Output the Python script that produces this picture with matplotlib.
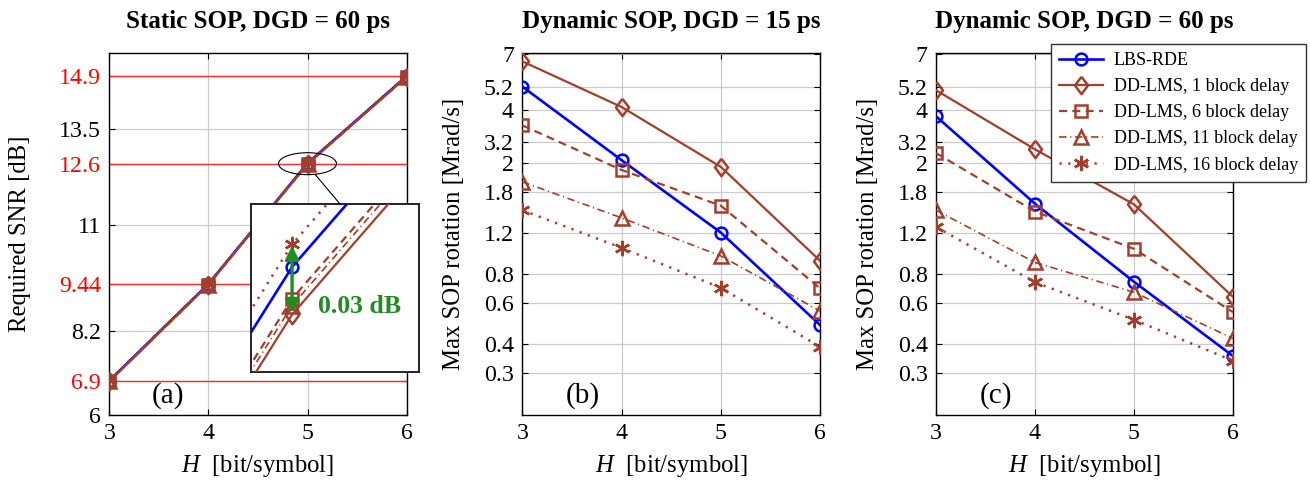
import numpy as np
import matplotlib
matplotlib.use('Agg')
import matplotlib.pyplot as plt
from matplotlib.patches import Ellipse, ConnectionPatch
from matplotlib.ticker import FixedLocator, FixedFormatter, NullLocator

plt.rcParams['font.family'] = ['Liberation Serif', 'DejaVu Serif']
plt.rcParams['mathtext.fontset'] = 'custom'
plt.rcParams['mathtext.rm'] = 'Liberation Serif'
plt.rcParams['mathtext.it'] = 'Liberation Serif:italic'
plt.rcParams['mathtext.bf'] = 'Liberation Serif:bold'

# ---------------- data ----------------
H = [3, 4, 5, 6]
labels = ['LBS-RDE', 'DD-LMS, 1 block delay', 'DD-LMS, 6 block delay',
          'DD-LMS, 11 block delay', 'DD-LMS, 16 block delay']

# (a) required SNR [dB], static SOP, DGD = 60 ps
snr_lbs = [6.900, 9.440, 12.610, 14.900]
snr_dd1 = [6.880, 9.420, 12.589, 14.880]
snr_dd6 = [6.886, 9.426, 12.596, 14.886]
snr_dd11 = [6.883, 9.423, 12.593, 14.883]
snr_dd16 = [6.910, 9.450, 12.620, 14.910]
snr_ticks = [6, 6.9, 8.2, 9.44, 11, 12.6, 13.5, 14.9]
snr_ticklabels = ['6', '6.9', '8.2', '9.44', '11', '12.6', '13.5', '14.9']
snr_red = [6.9, 9.44, 12.6, 14.9]

# (b) max SOP rotation [Mrad/s], dynamic SOP, DGD = 15 ps
b_lbs = [5.14, 2.48, 1.21, 0.484]
b_dd1 = [6.60, 4.20, 2.32, 0.915]
b_dd6 = [3.50, 2.25, 1.58, 0.696]
b_dd11 = [2.00, 1.40, 0.96, 0.556]
b_dd16 = [1.51, 1.04, 0.70, 0.390]

# (c) max SOP rotation [Mrad/s], dynamic SOP, DGD = 60 ps
c_lbs = [3.83, 1.61, 0.743, 0.356]
c_dd1 = [4.96, 2.76, 1.60, 0.640]
c_dd6 = [2.66, 1.49, 1.03, 0.550]
c_dd11 = [1.51, 0.90, 0.67, 0.424]
c_dd16 = [1.28, 0.74, 0.51, 0.340]

rot_ticks = [0.3, 0.4, 0.6, 0.8, 1.2, 1.8, 2.42, 2.97, 4.07, 5.12, 7.08]
rot_ticklabels = ['0.3', '0.4', '0.6', '0.8', '1.2', '1.8', '2', '3.2', '4', '5.2', '7']

# ---------------- styles ----------------
BLUE = '#0000ff'
BROWN = '#a23f2c'
GREEN = '#228b22'
diamond = [(0, 1), (0.75, 0), (0, -1), (-0.75, 0), (0, 1)]
styles = [
    dict(color=BLUE, ls='-', lw=1.9, marker='o', ms=8.5),
    dict(color=BROWN, ls='-', lw=1.6, marker=diamond, ms=12.5),
    dict(color=BROWN, ls=(0, (3.6, 2.4)), lw=1.6, marker='s', ms=8),
    dict(color=BROWN, ls=(0, (4.5, 2.2, 0.7, 2.2)), lw=1.2, marker='^', ms=9.5),
    dict(color=BROWN, ls=(0, (0.9, 2.6)), lw=1.8, marker=(6, 2, 0), ms=11),
]

TICK_FS = 17.2
LABEL_FS = 17.8
TITLE_FS = 18
fig = plt.figure(figsize=(13.10, 4.83), dpi=100)

ax_a = fig.add_axes([0.0834, 0.1408, 0.2270, 0.7489])
ax_b = fig.add_axes([0.3987, 0.1408, 0.2273, 0.7489])
ax_c = fig.add_axes([0.7145, 0.1408, 0.2267, 0.7489])


def draw_series(ax, ys):
    lines = []
    for y, lab, st in zip(ys, labels, styles):
        ln, = ax.plot(H, y, color=st['color'], ls=st['ls'], lw=st['lw'],
                      marker=st['marker'], ms=st['ms'], mfc='none',
                      mec=st['color'], mew=1.8, label=lab, zorder=3)
        lines.append(ln)
    return lines


def style_axes(ax):
    ax.set_xlim(3, 6)
    ax.set_xticks(H)
    ax.grid(True, color='#cccccc', lw=0.9, zorder=0)
    ax.set_axisbelow(True)
    ax.tick_params(direction='in', length=4, width=0.8, top=True, right=True,
                   labelsize=TICK_FS, pad=6)
    for sp in ax.spines.values():
        sp.set_linewidth(1.0)
    ax.set_xlabel(r'$H$  [bit/symbol]', fontsize=LABEL_FS, labelpad=6)


# ---- panel (a)
style_axes(ax_a)
ax_a.set_ylim(6, 15.5)
ax_a.set_yticks(snr_ticks)
ax_a.set_yticklabels(snr_ticklabels)
for t, lab in zip(ax_a.get_yticklabels(), snr_ticklabels):
    if float(lab) in snr_red:
        t.set_color('red')
for v in snr_red:
    ax_a.axhline(v, color='#ff2a2a', lw=1.0, zorder=1)
draw_series(ax_a, [snr_lbs, snr_dd1, snr_dd6, snr_dd11, snr_dd16])
ax_a.set_ylabel('Required SNR [dB]', fontsize=LABEL_FS)
ax_a.yaxis.set_label_coords(-0.262, 0.5)
ax_a.text(0.5, 1.088, 'Static SOP, DGD = 60 ps', transform=ax_a.transAxes,
          ha='center', va='center', fontsize=TITLE_FS, fontweight='bold')
ax_a.text(0.197, 0.053, '(a)', transform=ax_a.transAxes, ha='center',
          va='center', fontsize=21)

ell = Ellipse((H[2], snr_red[2]), width=0.585, height=0.577, fill=False,
              ec='black', lw=0.8, zorder=4)
ax_a.add_patch(ell)

# inset
ax_in = fig.add_axes([0.1916, 0.2304, 0.1282, 0.3472])
draw_series(ax_in, [snr_lbs, snr_dd1, snr_dd6, snr_dd11, snr_dd16])
ax_in.set_xlim(4.9909, 5.0281)
ax_in.set_ylim(12.5638, 12.6378)
ax_in.set_xticks([])
ax_in.set_yticks([])
for sp in ax_in.spines.values():
    sp.set_linewidth(1.4)
    sp.set_color('#222222')
ax_in.annotate('', xy=(H[2], snr_dd1[2]), xytext=(H[2], snr_dd16[2]),
               arrowprops=dict(arrowstyle='<|-|>', color=GREEN, lw=2.4,
                               mutation_scale=20, shrinkA=1, shrinkB=1),
               zorder=6)
ax_in.text(0.40, 0.39, '0.03 dB', transform=ax_in.transAxes, color=GREEN,
           fontsize=18.5, fontweight='bold', ha='left', va='center')

con = ConnectionPatch(xyA=(5.0757, 12.3213), coordsA=ax_a.transData,
                      xyB=(0.53, 1.0), coordsB=ax_in.transAxes,
                      color='black', lw=0.8)
fig.add_artist(con)

# ---- panels (b), (c)
for ax, ys, title, tag in [
        (ax_b, [b_lbs, b_dd1, b_dd6, b_dd11, b_dd16], 'Dynamic SOP, DGD = 15 ps', '(b)'),
        (ax_c, [c_lbs, c_dd1, c_dd6, c_dd11, c_dd16], 'Dynamic SOP, DGD = 60 ps', '(c)')]:
    style_axes(ax)
    ax.set_yscale('log')
    ax.set_ylim(0.1985, 7.15)
    ax.yaxis.set_major_locator(FixedLocator(rot_ticks))
    ax.yaxis.set_major_formatter(FixedFormatter(rot_ticklabels))
    ax.yaxis.set_minor_locator(NullLocator())
    draw_series(ax, ys)
    ax.set_ylabel('Max SOP rotation [Mrad/s]', fontsize=LABEL_FS)
    ax.yaxis.set_label_coords(-0.193, 0.5)
    ax.text(0.5, 1.088, title, transform=ax.transAxes, ha='center',
            va='center', fontsize=TITLE_FS, fontweight='bold')
    ax.text(0.202, 0.055, tag, transform=ax.transAxes, ha='center',
            va='center', fontsize=21)

leg = ax_c.legend(loc='upper right', bbox_to_anchor=(0.9969, 0.9083),
                  bbox_transform=fig.transFigure, fontsize=13,
                  handlelength=2.4, fancybox=False, framealpha=1,
                  edgecolor='#333333', borderaxespad=0, labelspacing=0.5,
                  borderpad=0.45, handletextpad=0.6)
leg.get_frame().set_linewidth(1.0)
leg.set_zorder(10)

fig.savefig('out.png', dpi=100)
